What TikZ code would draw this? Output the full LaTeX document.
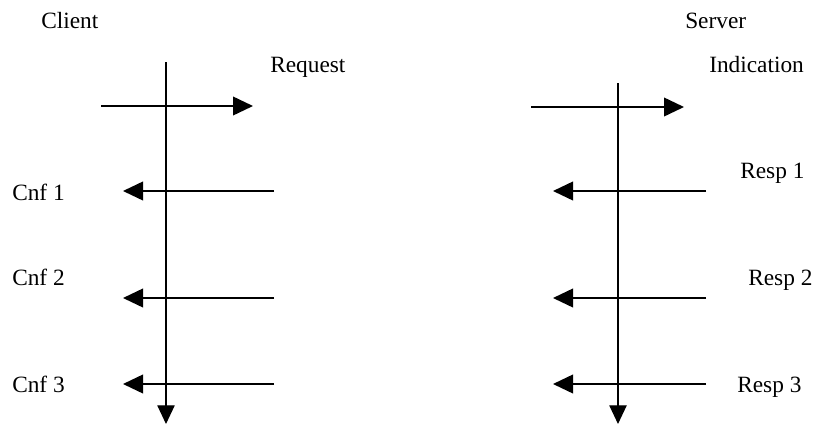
\documentclass[tikz,border=0pt]{standalone}
\usepackage{fontspec}
\setmainfont{Liberation Serif}
\usetikzlibrary{arrows.meta,positioning}
\tikzstyle{label}=[
	inner sep=0pt,
	anchor=base west,
	font=\fontsize{17.5}{20}\selectfont
]
\tikzstyle{lifeline}=[
	-{Triangle[length=14pt,width=13pt]},
	line width=0.9pt
]
\tikzstyle{message}=[
	-{Triangle[length=15pt,width=14pt]},
	line width=1.3pt
]

\begin{document}
\begin{tikzpicture}[x=0.75pt,y=-0.75pt]
\useasboundingbox (0,0) rectangle (814,425);
% lifelines
\coordinate (ClientTop) at (166,62);
\coordinate (ClientEnd) at (166,424);
\coordinate (ServerTop) at (618,83);
\coordinate (ServerEnd) at (618,424);
\draw [lifeline] (ClientTop) -- (ClientEnd);
\draw [lifeline] (ServerTop) -- (ServerEnd);
% labels
\node [label] (Client) at (41,28) {Client};
\node [label] (Server) at (685,28) {Server};
\node [label] (Request) at (270,72) {Request};
\node [label] (Indication) at (709,72) {Indication};
\node [label] (Cnf1) at (12,200) {Cnf 1};
\node [label] (Cnf2) at (12,285) {Cnf 2};
\node [label] (Cnf3) at (12,392) {Cnf 3};
\node [label] (Resp1) at (740,178) {Resp 1};
\node [label] (Resp2) at (748,285) {Resp 2};
\node [label] (Resp3) at (737,392) {Resp 3};
% messages
\coordinate (ReqFrom) at (101,106);
\coordinate (ReqTo) at (253,106);
\coordinate (IndFrom) at (531,107);
\coordinate (IndTo) at (684,107);
\draw [message] (ReqFrom) -- (ReqTo);
\draw [message] (IndFrom) -- (IndTo);
\foreach \y/\n in {191/1,298/2,384/3}{
	\coordinate (CnfFrom\n) at (274,\y);
	\coordinate (CnfTo\n) at (123,\y);
	\coordinate (RespFrom\n) at (706,\y);
	\coordinate (RespTo\n) at (553,\y);
	\draw [message] (CnfFrom\n) -- (CnfTo\n);
	\draw [message] (RespFrom\n) -- (RespTo\n);
}
\end{tikzpicture}
\end{document}
